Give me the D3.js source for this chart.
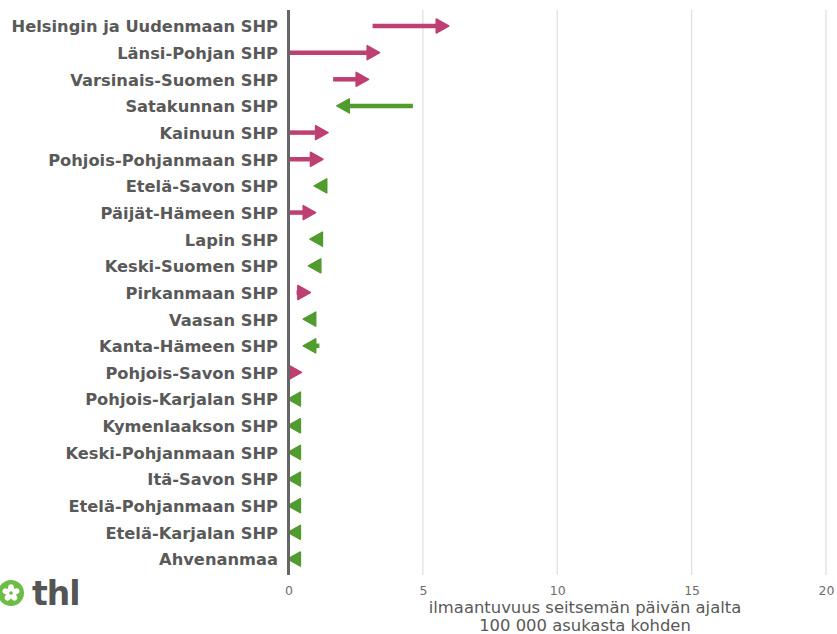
<!DOCTYPE html>
<html>
<head>
<meta charset="utf-8">
<script src="https://cdn.jsdelivr.net/npm/d3@7"></script>
<style>
  html, body { margin: 0; padding: 0; background: #fff; }
  svg { display: block; }
</style>
</head>
<body>
<svg id="chart" width="837" height="634"></svg>
<script>
// ---- Data ----
const regions = [
  "Helsingin ja Uudenmaan SHP", "Länsi-Pohjan SHP", "Varsinais-Suomen SHP",
  "Satakunnan SHP", "Kainuun SHP", "Pohjois-Pohjanmaan SHP", "Etelä-Savon SHP",
  "Päijät-Hämeen SHP", "Lapin SHP", "Keski-Suomen SHP", "Pirkanmaan SHP",
  "Vaasan SHP", "Kanta-Hämeen SHP", "Pohjois-Savon SHP", "Pohjois-Karjalan SHP",
  "Kymenlaakson SHP", "Keski-Pohjanmaan SHP", "Itä-Savon SHP",
  "Etelä-Pohjanmaan SHP", "Etelä-Karjalan SHP", "Ahvenanmaa"
];
// incidence in the earlier 7-day period (arrow tail)
const previous = [3.13, 0, 1.66, 4.63, 0, 0, 1.40, 0, 1.22, 1.18, 0.30, 0.98, 1.15, 0, 0.3, 0.3, 0.3, 0.3, 0.3, 0.3, 0.3];
// incidence in the latest 7-day period (arrow head)
const latest   = [5.99, 3.42, 3.01, 1.77, 1.50, 1.31, 0.93, 1.04, 0.77, 0.71, 0.84, 0.52, 0.52, 0.51, -0.05, -0.05, -0.05, -0.05, -0.05, -0.05, -0.05];
const xTicks = [0, 5, 10, 15, 20];
const xTitle = ["ilmaantuvuus seitsemän päivän ajalta", "100 000 asukasta kohden"];

const colorUp = "#be3f72";
const colorDown = "#519b2f";
const textGray = "#595959";

// ---- Layout ----
const svg = d3.select("#chart");
const x = d3.scaleLinear().domain([0, 20]).range([288.5, 826]);
const y = d3.scalePoint().domain(regions).range([10, 575]).padding(0.6);

// gridlines
svg.append("g")
  .selectAll("line")
  .data(xTicks.filter(d => d > 0))
  .join("line")
  .attr("x1", d => x(d)).attr("x2", d => x(d))
  .attr("y1", 10).attr("y2", 575)
  .attr("stroke", "#dedede")
  .attr("stroke-width", 1.2);

// x axis (ticks only, no domain)
const xAxis = d3.axisBottom(x).tickValues(xTicks).tickSize(0).tickPadding(0);
const gx = svg.append("g").attr("transform", "translate(0,583)").call(xAxis);
gx.select(".domain").remove();
gx.selectAll("text")
  .attr("font-family", "DejaVu Sans")
  .attr("font-size", 12.5)
  .attr("fill", "#6e6e6e")
  .attr("dy", "0.95em");

// x axis title
svg.append("text")
  .attr("x", 585).attr("y", 613)
  .attr("text-anchor", "middle")
  .attr("font-family", "DejaVu Sans")
  .attr("font-size", 16.4)
  .attr("fill", textGray)
  .selectAll("tspan")
  .data(xTitle)
  .join("tspan")
  .attr("x", 585)
  .attr("dy", (d, i) => i === 0 ? 0 : 18)
  .text(d => d);

// y labels
const yAxis = d3.axisLeft(y).tickSize(0).tickPadding(0);
const gy = svg.append("g").attr("transform", "translate(278,0)").call(yAxis);
gy.select(".domain").remove();
gy.selectAll("text")
  .attr("font-family", "DejaVu Sans")
  .attr("font-weight", "bold")
  .attr("font-size", 16.3)
  .attr("fill", textGray)
  .attr("dy", "0.36em");

// arrows
const headLen = 12.5, headHalf = 7;
const rows = regions.map((r, i) => ({ region: r, from: previous[i], to: latest[i] }));
const gA = svg.append("g");
rows.forEach(d => {
  const up = d.to >= d.from;
  const col = up ? colorUp : colorDown;
  const dir = up ? 1 : -1;
  const yy = y(d.region);
  const xt = x(d.to) - dir * 0.75;
  const xb = xt - dir * headLen;
  const xs = x(d.from);
  if ((xb - xs) * dir > 0) {
    gA.append("line")
      .attr("x1", xs).attr("x2", xb + dir * 2)
      .attr("y1", yy).attr("y2", yy)
      .attr("stroke", col)
      .attr("stroke-width", 4.5);
  }
  gA.append("path")
    .attr("d", `M${xt},${yy} L${xb},${yy - headHalf} L${xb},${yy + headHalf} Z`)
    .attr("fill", col)
    .attr("stroke", col)
    .attr("stroke-width", 1.5)
    .attr("stroke-linejoin", "round");
});

// y axis line (drawn over the arrows)
svg.append("line")
  .attr("x1", 288.5).attr("x2", 288.5)
  .attr("y1", 10).attr("y2", 575)
  .attr("stroke", "#666666")
  .attr("stroke-width", 3);

// thl logo
const logo = svg.append("g").attr("transform", "translate(11,593)");
logo.append("circle").attr("r", 13).attr("fill", "#6cbd45");
for (let k = 0; k < 5; k++) {
  logo.append("ellipse")
    .attr("cx", 0).attr("cy", -4.8)
    .attr("rx", 3).attr("ry", 4)
    .attr("fill", "#fff")
    .attr("transform", `rotate(${k * 72})`);
}
logo.append("circle").attr("r", 1.8).attr("fill", "#6cbd45");
svg.append("text")
  .attr("x", 32).attr("y", 605)
  .attr("font-family", "DejaVu Sans")
  .attr("font-weight", "bold")
  .attr("font-size", 33)
  .attr("fill", "#555")
  .attr("letter-spacing", -1)
  .text("thl");
</script>
</body>
</html>
